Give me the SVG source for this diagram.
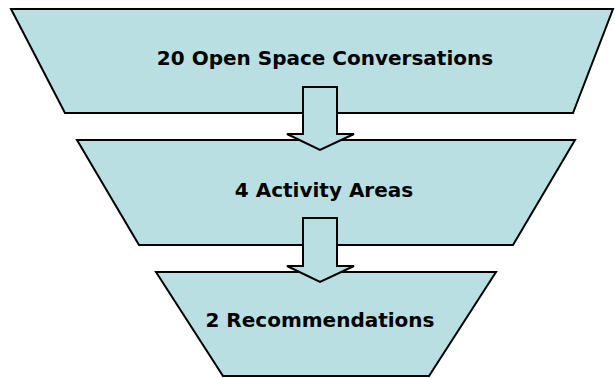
<svg xmlns="http://www.w3.org/2000/svg" width="615" height="378" viewBox="0 0 615 378">
  <style>
    .stage { fill: #B9DFE2; stroke: #000; stroke-width: 2; stroke-linejoin: miter; }
    .flow { fill: #B9DFE2; stroke: #000; stroke-width: 2; stroke-linejoin: miter; }
    .label { font-family: "DejaVu Sans", Verdana, sans-serif; font-weight: bold; font-size: 20px; fill: #000; text-anchor: middle; }
  </style>
  <rect width="615" height="378" fill="#fff"/>
  <g id="stage-conversations">
    <polygon class="stage" points="11,9 613,9 573,113 65,113"/>
    <text class="label" x="325" y="65">20 Open Space Conversations</text>
  </g>
  <g id="stage-activity-areas">
    <polygon class="stage" points="77,140 575,140 513,245 139,245"/>
    <text class="label" x="324" y="197">4 Activity Areas</text>
  </g>
  <g id="stage-recommendations">
    <polygon class="stage" points="156,272 496,272 429,376 223,376"/>
    <text class="label" x="320" y="327">2 Recommendations</text>
  </g>
  <g id="connectors">
    <polygon class="flow" points="303,87 337,87 337,134 354,134 320,150 287,134 303,134"/>
    <polygon class="flow" points="303,218 337,218 337,266 354,266 320,282 287,266 303,266"/>
  </g>
</svg>
